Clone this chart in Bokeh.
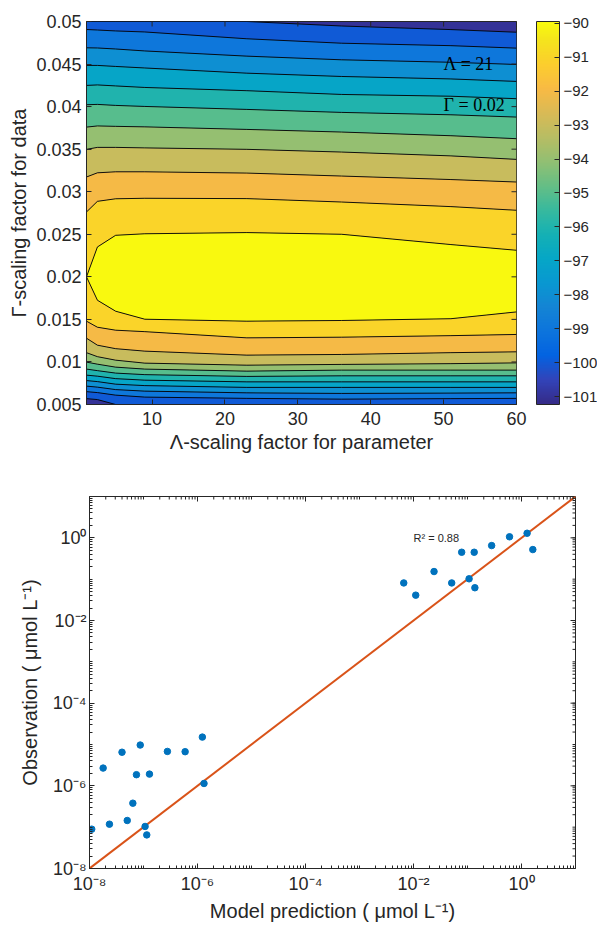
import numpy as np
from bokeh.plotting import figure
from bokeh.layouts import column, row
from bokeh.models import (ColorBar, LinearColorMapper, FixedTicker, CustomJSTickFormatter, Label,
                          Range1d)
from bokeh.embed import file_html
from bokeh.resources import INLINE

# ---------------- panel (a): contour data ----------------
LAMBDA_COLS = [1, 2.5, 5, 9, 23, 36, 51, 60]

# contour lines above the maximum (levels -100.5 ... -90.5), Gamma position per Lambda column
UPPER_LEVELS = [-100.5, -99.5, -98.5, -97.5, -96.5, -95.5, -94.5, -93.5, -92.5, -91.5, -90.5]
GAMMA_UPPER = [
    [0.05000, 0.05000, 0.05000, 0.05000, 0.05000, 0.04947, 0.04905, 0.04874],
    [0.04906, 0.04900, 0.04889, 0.04877, 0.04797, 0.04745, 0.04716, 0.04687],
    [0.04691, 0.04689, 0.04677, 0.04654, 0.04593, 0.04550, 0.04521, 0.04495],
    [0.04484, 0.04484, 0.04472, 0.04454, 0.04393, 0.04354, 0.04325, 0.04296],
    [0.04249, 0.04255, 0.04243, 0.04225, 0.04187, 0.04143, 0.04122, 0.04093],
    [0.04022, 0.04026, 0.04014, 0.04002, 0.03967, 0.03932, 0.03904, 0.03877],
    [0.03759, 0.03773, 0.03768, 0.03762, 0.03732, 0.03701, 0.03658, 0.03623],
    [0.03498, 0.03521, 0.03521, 0.03515, 0.03498, 0.03466, 0.03421, 0.03380],
    [0.03173, 0.03222, 0.03234, 0.03234, 0.03219, 0.03184, 0.03143, 0.03114],
    [0.02762, 0.02887, 0.02917, 0.02923, 0.02919, 0.02879, 0.02825, 0.02782],
    [0.02000, 0.02351, 0.02488, 0.02506, 0.02520, 0.02500, 0.02379, 0.02312],
]
# contour lines below the maximum (levels -90.5 ... -100.5)
LOWER_LEVELS = [-90.5, -91.5, -92.5, -93.5, -94.5, -95.5, -96.5, -97.5, -98.5, -99.5, -100.5]
GAMMA_LOWER = [
    [0.02000, 0.01725, 0.01596, 0.01502, 0.01479, 0.01487, 0.01508, 0.01588],
    [0.01479, 0.01408, 0.01373, 0.01356, 0.01283, 0.01291, 0.01309, 0.01323],
    [0.01279, 0.01197, 0.01156, 0.01127, 0.01080, 0.01088, 0.01109, 0.01119],
    [0.01109, 0.01062, 0.01021, 0.00986, 0.00962, 0.00971, 0.00980, 0.00989],
    [0.00998, 0.00974, 0.00939, 0.00916, 0.00892, 0.00904, 0.00904, 0.00904],
    [0.00916, 0.00898, 0.00869, 0.00851, 0.00830, 0.00837, 0.00837, 0.00837],
    [0.00845, 0.00833, 0.00804, 0.00786, 0.00766, 0.00766, 0.00766, 0.00766],
    [0.00781, 0.00769, 0.00739, 0.00722, 0.00701, 0.00701, 0.00701, 0.00701],
    [0.00716, 0.00704, 0.00675, 0.00657, 0.00637, 0.00630, 0.00634, 0.00637],
    [0.00651, 0.00640, 0.00610, 0.00587, 0.00572, 0.00563, 0.00569, 0.00572],
    [0.00569, 0.00558, 0.00500, 0.00500, 0.00500, 0.00500, 0.00500, 0.00500],
]
BAND_VALUES_UPPER = [-100, -99, -98, -97, -96, -95, -94, -93, -92, -91]
PEAK_VALUE = -90
BAND_VALUES_LOWER = [-91, -92, -93, -94, -95, -96, -97, -98, -99, -100]
EDGE_VALUE = -101

CBAR_LOW, CBAR_HIGH = -101.23, -89.95
CBAR_TICKS = [-101, -100, -99, -98, -97, -96, -95, -94, -93, -92, -91, -90]
X_RANGE_A = [1, 60]
Y_RANGE_A = [0.005, 0.05]
X_TICKS_A = [10, 20, 30, 40, 50, 60]
Y_TICKS_A = [0.005, 0.01, 0.015, 0.02, 0.025, 0.03, 0.035, 0.04, 0.045, 0.05]
ANNOT_TEXT = ["Λ = 21", "Γ = 0.02"]
ANNOT_X = [50, 50]
ANNOT_Y = [0.04504, 0.04014]

# ---------------- panel (b): scatter data ----------------
MODEL_PRED = [1.1e-8, 1.79e-8, 2.34e-8, 4.0e-8, 5.0e-8, 6.35e-8, 7.4e-8, 8.7e-8, 1.07e-7,
              1.15e-7, 1.29e-7, 2.77e-7, 5.9e-7, 1.23e-6, 1.32e-6,
              6.6e-3, 0.011, 0.024, 0.051, 0.078, 0.107, 0.133, 0.137, 0.28, 0.60, 1.27, 1.62]
OBSERVED = [8.95e-8, 2.69e-6, 1.18e-7, 6.5e-6, 1.45e-7, 3.8e-7, 1.86e-6, 9.7e-6, 1.04e-7,
            6.5e-8, 1.92e-6, 6.8e-6, 6.7e-6, 1.51e-5, 1.14e-6,
            0.081, 0.041, 0.153, 0.081, 0.448, 0.102, 0.448, 0.062, 0.65, 1.06, 1.29, 0.52]
ONE_TO_ONE_X = [1e-8, 10]
ONE_TO_ONE_Y = [1e-8, 10]
RANGE_B = [1e-8, 10]
LOG_MAJOR_TICKS = [1e-8, 1e-6, 1e-4, 1e-2, 1e0]
LOG_DECADES = [-8, -7, -6, -5, -4, -3, -2, -1, 0]
R2_TEXT = "R² = 0.88"
R2_X, R2_Y = 0.01, 1.0

# ---------------- style ----------------
FONT = "Liberation Sans"
INK = "#262626"
PARULA_IDX = [1, 5, 9, 13, 17, 21, 25, 29, 33, 37, 41, 45, 49, 53, 57, 61, 64]
PARULA_RGB = [(0.2081, 0.1663, 0.5292), (0.1959, 0.2645, 0.7279), (0.0117, 0.3875, 0.8820),
              (0.0498, 0.4586, 0.8641), (0.0793, 0.5200, 0.8312), (0.0343, 0.5966, 0.8199),
              (0.0228, 0.6535, 0.7768), (0.0843, 0.6928, 0.7062), (0.2178, 0.7250, 0.6193),
              (0.3953, 0.7459, 0.5244), (0.5709, 0.7485, 0.4494), (0.7184, 0.7411, 0.3905),
              (0.8507, 0.7299, 0.3360), (0.9739, 0.7314, 0.2666), (0.9880, 0.8066, 0.1794),
              (0.9589, 0.8949, 0.1132), (0.9763, 0.9831, 0.0538)]
_pos = np.array([(i - 1) / 63 for i in PARULA_IDX])
_rgb = np.array(PARULA_RGB)


def parula_at(t):
    c = [np.interp(t, _pos, _rgb[:, k]) for k in range(3)]
    return "#%02x%02x%02x" % tuple(int(round(v * 255)) for v in c)


PARULA256 = [parula_at(t) for t in np.linspace(0, 1, 256)]


def value_color(v):
    return parula_at((v - CBAR_LOW) / (CBAR_HIGH - CBAR_LOW))


def style_axis(ax, tick_size, label_size):
    ax.axis_line_color = INK
    ax.major_tick_line_color = INK
    ax.minor_tick_line_color = INK
    ax.major_tick_in = 5
    ax.major_tick_out = 0
    ax.minor_tick_in = 0
    ax.minor_tick_out = 0
    ax.major_label_text_font = FONT
    ax.major_label_text_color = INK
    ax.major_label_text_font_size = tick_size
    ax.axis_label_text_font = FONT
    ax.axis_label_text_font_style = "normal"
    ax.axis_label_text_color = INK
    ax.axis_label_text_font_size = label_size


def edge_ticks(p, xs, ys, size, vertical):
    # tick marks on the opposite (top / right) frame edges; half of each dash is clipped by the frame
    p.scatter(xs, ys, marker="dash", size=size, angle=(np.pi / 2 if vertical else 0),
              line_color=INK, line_width=1)


# ---------------- panel (a) ----------------
p1 = figure(frame_width=430, frame_height=383,
            x_range=Range1d(*X_RANGE_A), y_range=Range1d(*Y_RANGE_A),
            output_backend="svg", toolbar_location=None,
            min_border_left=86, min_border_top=21, min_border_bottom=64, min_border_right=20,
            background_fill_color=value_color(EDGE_VALUE), border_fill_color="white",
            outline_line_color=INK, outline_line_width=1)
p1.grid.visible = False

for i, v in enumerate(BAND_VALUES_UPPER):
    p1.varea(x=LAMBDA_COLS, y1=GAMMA_UPPER[i + 1], y2=GAMMA_UPPER[i], fill_color=value_color(v))
p1.varea(x=LAMBDA_COLS, y1=GAMMA_LOWER[0], y2=GAMMA_UPPER[-1], fill_color=value_color(PEAK_VALUE))
for i, v in enumerate(BAND_VALUES_LOWER):
    p1.varea(x=LAMBDA_COLS, y1=GAMMA_LOWER[i + 1], y2=GAMMA_LOWER[i], fill_color=value_color(v))
for line_row in GAMMA_UPPER + GAMMA_LOWER:
    p1.line(LAMBDA_COLS, line_row, line_color="black", line_width=0.9)

edge_ticks(p1, X_TICKS_A, [Y_RANGE_A[1]] * len(X_TICKS_A), 10, True)
edge_ticks(p1, [X_RANGE_A[1]] * len(Y_TICKS_A), Y_TICKS_A, 10, False)

for t, x, y in zip(ANNOT_TEXT, ANNOT_X, ANNOT_Y):
    p1.add_layout(Label(x=x, y=y, text=t, text_font="Liberation Serif", text_font_size="18px",
                        text_color="black", text_align="left", text_baseline="middle"))

p1.xaxis.ticker = FixedTicker(ticks=X_TICKS_A)
p1.yaxis.ticker = FixedTicker(ticks=Y_TICKS_A)
p1.yaxis.formatter = CustomJSTickFormatter(code="return parseFloat(tick.toFixed(4)).toString();")
p1.xaxis.axis_label = "Λ-scaling factor for parameter"
p1.yaxis.axis_label = "Γ-scaling factor for data"
for ax in p1.xaxis + p1.yaxis:
    style_axis(ax, "18px", "20px")
p1.xaxis.major_label_standoff = 7
p1.xaxis.axis_label_standoff = 3
p1.yaxis.major_label_standoff = 5
p1.yaxis.axis_label_standoff = 3

# colour bar lives in its own narrow figure to the right of panel (a)
pc = figure(width=61, height=468, output_backend="svg", toolbar_location=None,
            x_axis_location=None, y_axis_location=None, outline_line_color=None,
            min_border_left=0, min_border_right=0, min_border_top=0, min_border_bottom=0,
            x_range=Range1d(0, 1), y_range=Range1d(0, 1))
pc.grid.visible = False
mapper = LinearColorMapper(palette=PARULA256, low=CBAR_LOW, high=CBAR_HIGH)
cb = ColorBar(color_mapper=mapper, ticker=FixedTicker(ticks=CBAR_TICKS), width=23, height=383,
              padding=0, margin=0, location=(0, 0),
              major_tick_in=5, major_tick_out=0, major_tick_line_color=INK,
              bar_line_color=INK, bar_line_width=1, label_standoff=4,
              major_label_text_font=FONT, major_label_text_font_size="15px",
              major_label_text_color=INK, background_fill_alpha=0, border_line_color=None)
pc.add_layout(cb, "center")

# ---------------- panel (b) ----------------
p2 = figure(frame_width=486, frame_height=372, x_axis_type="log", y_axis_type="log",
            x_range=Range1d(*RANGE_B), y_range=Range1d(*RANGE_B),
            output_backend="svg", toolbar_location=None,
            min_border_left=89, min_border_top=28, min_border_bottom=52, min_border_right=22,
            outline_line_color=INK, outline_line_width=1)
p2.grid.visible = False

p2.line(ONE_TO_ONE_X, ONE_TO_ONE_Y, line_color="#d95319", line_width=2)
p2.scatter(MODEL_PRED, OBSERVED, size=6.5, fill_color="#0072bd", line_color="#0072bd")
p2.add_layout(Label(x=R2_X, y=R2_Y, text=R2_TEXT, text_font=FONT, text_font_size="11px",
                    text_color=INK, text_align="left", text_baseline="middle"))

minor = [k * 10.0 ** d for d in LOG_DECADES for k in range(1, 10)]
edge_ticks(p2, LOG_MAJOR_TICKS, [RANGE_B[1]] * len(LOG_MAJOR_TICKS), 10, True)
edge_ticks(p2, [RANGE_B[1]] * len(LOG_MAJOR_TICKS), LOG_MAJOR_TICKS, 10, False)
edge_ticks(p2, minor, [RANGE_B[1]] * len(minor), 6, True)
edge_ticks(p2, [RANGE_B[1]] * len(minor), minor, 6, False)

sup_code = """
const sup = {"-": "\u207b", "0": "\u2070", "1": "\u00b9", "2": "\u00b2", "3": "\u00b3",
             "4": "\u2074", "5": "\u2075", "6": "\u2076", "7": "\u2077", "8": "\u2078", "9": "\u2079"};
const e = Math.round(Math.log10(tick)).toString();
return "10" + e.split("").map(c => sup[c]).join("");
"""
p2.xaxis.axis_label = "Model prediction ( μmol L⁻¹)"
p2.yaxis.axis_label = "Observation ( μmol L⁻¹)"
for ax in p2.xaxis + p2.yaxis:
    ax.ticker = FixedTicker(ticks=LOG_MAJOR_TICKS, minor_ticks=minor)
    ax.formatter = CustomJSTickFormatter(code=sup_code)
    style_axis(ax, "18px", "20px")
    ax.minor_tick_in = 3
p2.xaxis.major_label_standoff = 5
p2.xaxis.axis_label_standoff = 3
p2.yaxis.major_label_standoff = 3
p2.yaxis.axis_label_standoff = 9

layout = column(row(p1, pc, spacing=0), p2, spacing=0)
open("out.html", "w").write(file_html(layout, INLINE))
